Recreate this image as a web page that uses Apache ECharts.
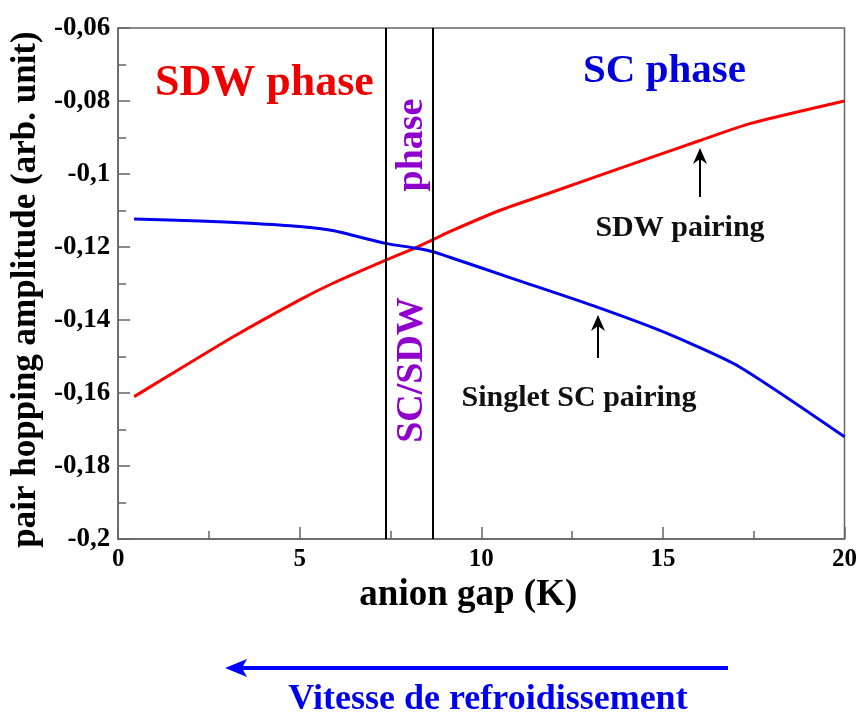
<!DOCTYPE html>
<html><head><meta charset="utf-8">
<script src="https://cdn.jsdelivr.net/npm/echarts@6/dist/echarts.min.js"></script>
<style>html,body{margin:0;padding:0;background:#fff}#c{width:860px;height:717px}</style>
</head><body><div id="c"></div>
<script>
// data
const sdwX = [0.44, 1.35, 3.17, 5.0, 5.9, 7.37, 8.17, 8.67, 9.13, 10.5, 11.88, 14.64, 16.0, 17.39, 20.0];
const sdwY = [-0.161, -0.1555, -0.1446, -0.1345, -0.130, -0.1236, -0.1203, -0.1180, -0.1158, -0.1100, -0.1052, -0.0956, -0.0909, -0.0862, -0.0800];
const scX = [0.44, 2.25, 3.63, 5.0, 5.9, 7.37, 8.17, 8.67, 9.13, 10.97, 13.17, 15.1, 17.1, 20.0];
const scY = [-0.1123, -0.1129, -0.1135, -0.1144, -0.1155, -0.1190, -0.1203, -0.1213, -0.1228, -0.1290, -0.1364, -0.1436, -0.1528, -0.1720];
const phaseBounds = [7.37, 8.67];
const xRange = [0, 20, 5];
const yRange = [-0.2, -0.06, 0.02];

const FONT = '"Liberation Serif", "Times New Roman", serif';
const chart = echarts.init(document.getElementById('c'));
const zip = (a, b) => a.map((v, i) => [v, b[i]]);
const fmtY = v => String(Number(v.toFixed(2))).replace('.', ',');

function arrowUp(x, yBottom, yTip) {
  return [
    {type: 'line', shape: {x1: x, y1: yBottom, x2: x, y2: yTip + 10}, style: {stroke: '#000', lineWidth: 2}},
    {type: 'polygon', shape: {points: [[x, yTip], [x - 7, yTip + 16], [x, yTip + 11], [x + 7, yTip + 16]]}, style: {fill: '#000'}}
  ];
}

chart.setOption({
  animation: false,
  backgroundColor: '#fff',
  grid: {left: 118, right: 15, top: 28, bottom: 178, show: true, borderColor: '#666', borderWidth: 1.5, containLabel: false},
  xAxis: {
    type: 'value', min: xRange[0], max: xRange[1], interval: xRange[2],
    name: 'anion gap (K)', nameLocation: 'middle', nameGap: 30,
    nameTextStyle: {fontFamily: FONT, fontWeight: 'bold', fontSize: 37, color: '#000', padding: [0, 26, 0, 0]},
    axisLine: {lineStyle: {color: '#666', width: 1.5}},
    axisTick: {inside: true, length: 12, lineStyle: {color: '#666', width: 1.5}},
    minorTick: {show: true, splitNumber: 2, length: 8, lineStyle: {color: '#666', width: 1.5}},
    splitLine: {show: false},
    axisLabel: {fontFamily: FONT, fontWeight: 'bold', fontSize: 25, color: '#000', margin: 8}
  },
  yAxis: {
    type: 'value', min: yRange[0], max: yRange[1], interval: yRange[2],
    name: 'pair hopping amplitude (arb. unit)', nameLocation: 'middle', nameGap: 64, nameRotate: 90,
    nameTextStyle: {fontFamily: FONT, fontWeight: 'bold', fontSize: 35, color: '#000', padding: [0, 12, 0, 0]},
    axisLine: {lineStyle: {color: '#666', width: 1.5}},
    axisTick: {inside: true, length: 12, lineStyle: {color: '#666', width: 1.5}},
    minorTick: {show: true, splitNumber: 2, length: 8, lineStyle: {color: '#666', width: 1.5}},
    splitLine: {show: false},
    axisLabel: {fontFamily: FONT, fontWeight: 'bold', fontSize: 27, color: '#000', margin: 8, formatter: fmtY}
  },
  series: [
    {type: 'line', name: 'SDW pairing', data: zip(sdwX, sdwY), showSymbol: false, smooth: 0.2,
     lineStyle: {color: '#ff0000', width: 3}, z: 3,
     markLine: {silent: true, symbol: ['none', 'none'], label: {show: false},
       lineStyle: {color: '#000', width: 2, type: 'solid'},
       data: phaseBounds.map(v => ({xAxis: v}))}},
    {type: 'line', name: 'Singlet SC pairing', data: zip(scX, scY), showSymbol: false, smooth: 0.2,
     lineStyle: {color: '#0000ee', width: 3}, z: 3}
  ],
  graphic: [
    {type: 'text', left: 155, top: 62, style: {text: 'SDW phase', font: 'bold 44px ' + FONT, fill: '#ee0000'}},
    {type: 'text', left: 583, top: 51, style: {text: 'SC phase', font: 'bold 41px ' + FONT, fill: '#0000dd'}},
    {type: 'text', x: 412, y: 145, rotation: Math.PI / 2, style: {text: 'phase', font: 'bold 38px ' + FONT, fill: '#9000cc', align: 'center', verticalAlign: 'middle'}},
    {type: 'text', x: 412, y: 370, rotation: Math.PI / 2, style: {text: 'SC/SDW', font: 'bold 38px ' + FONT, fill: '#9000cc', align: 'center', verticalAlign: 'middle'}},
    {type: 'text', x: 680, y: 228, style: {text: 'SDW pairing', font: 'bold 30px ' + FONT, fill: '#111', align: 'center', verticalAlign: 'middle'}},
    {type: 'text', x: 579, y: 398, style: {text: 'Singlet SC pairing', font: 'bold 30px ' + FONT, fill: '#111', align: 'center', verticalAlign: 'middle'}},
    ...arrowUp(700, 197, 148),
    ...arrowUp(598, 358, 315),
    {type: 'line', shape: {x1: 728, y1: 668, x2: 240, y2: 668}, style: {stroke: '#0000ff', lineWidth: 4}},
    {type: 'polygon', shape: {points: [[225, 668], [247, 659], [242, 668], [247, 677]]}, style: {fill: '#0000ff'}},
    {type: 'text', x: 488, y: 700, style: {text: 'Vitesse de refroidissement', font: 'bold 36px ' + FONT, fill: '#0000ee', align: 'center', verticalAlign: 'middle'}}
  ]
});
</script></body></html>
